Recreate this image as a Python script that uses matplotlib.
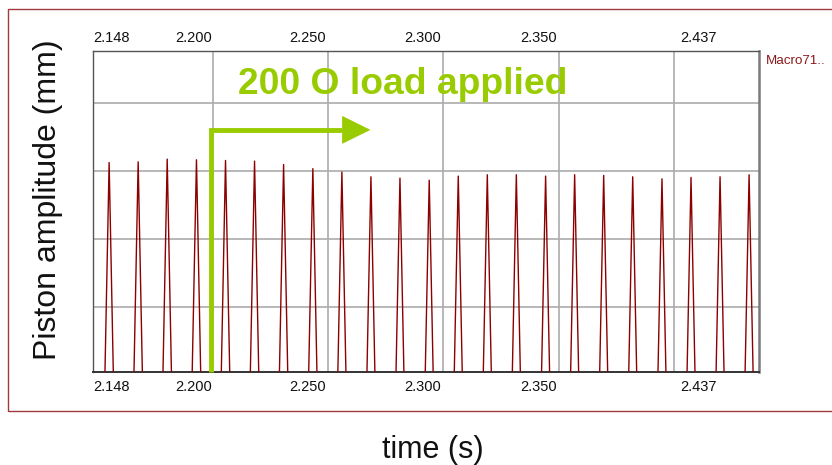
import numpy as np
import matplotlib
matplotlib.use("Agg")
import matplotlib.pyplot as plt
from matplotlib.patches import Rectangle, Polygon

plt.rcParams['font.family'] = ['Liberation Sans', 'DejaVu Sans']

# ---- data ----
peak_times = [2.1550, 2.1676, 2.1802, 2.1929, 2.2055, 2.2181, 2.2307, 2.2434,
              2.2560, 2.2686, 2.2812, 2.2939, 2.3065, 2.3191, 2.3317, 2.3444,
              2.3570, 2.3696, 2.3822, 2.3949, 2.4075, 2.4201, 2.4327]
peak_values = [3.13, 3.14, 3.18, 3.17, 3.16, 3.15, 3.10, 3.04,
               2.99, 2.92, 2.90, 2.87, 2.93, 2.95, 2.95, 2.93,
               2.95, 2.94, 2.92, 2.89, 2.91, 2.92, 2.95]
trough_level = -7.6          # signal minimum, far below the visible window
load_time = 2.1992           # 200 Ohm load switched on
tick_labels = ["2.148", "2.200", "2.250", "2.300", "2.350", "2.437"]
tick_label_pos = [2.1560, 2.1917, 2.2410, 2.2910, 2.3413, 2.4108]
grid_x = [2.200, 2.250, 2.300, 2.350, 2.400]
grid_y = [1, 2, 3, 4]
x_range = (2.148, 2.437)
y_range = (0.053, 4.77)

# build polyline: trough - peak - trough ...
half = (peak_times[1] - peak_times[0]) / 2
t = [peak_times[0] - half]
y = [trough_level]
for pt, pv in zip(peak_times, peak_values):
    t += [pt, pt + half]
    y += [pv, trough_level]

fig = plt.figure(figsize=(8.32, 4.65), dpi=100)
ax = fig.add_axes([93/832, 1 - 371.7/465, 666/832, 320.7/465])

ax.set_xlim(*x_range)
ax.set_ylim(*y_range)

for gx in grid_x:
    ax.axvline(gx, color='#ababab', lw=1.2, zorder=1)
for gy in grid_y:
    ax.axhline(gy, color='#ababab', lw=1.2, zorder=1)

ax.plot(t, y, color='#8b0000', lw=1.0, zorder=3)

ax.set_xticks([])
ax.set_yticks([])
for s in ['top', 'left']:
    ax.spines[s].set_color('#555555')
    ax.spines[s].set_linewidth(1.0)
ax.spines['right'].set_color('#7a7a7a')
ax.spines['right'].set_linewidth(1.8)
ax.spines['bottom'].set_color('#333333')
ax.spines['bottom'].set_linewidth(1.4)

# tick labels top and bottom
xt = ax.get_xaxis_transform()
for lab, px in zip(tick_labels, tick_label_pos):
    ax.text(px, 1.0 + 6/320.7, lab, transform=xt, ha='center',
            va='bottom', fontsize=10.5, color='#111111', clip_on=False)
    ax.text(px, -8/320.7, lab, transform=xt, ha='center',
            va='top', fontsize=10.5, color='#111111', clip_on=False)

# green load arrow
green = '#99cc00'
elbow_y = 3.61
head_base = 2.2561
head_tip = 2.2684
ax.plot([load_time, load_time, head_base], [y_range[0], elbow_y, elbow_y],
        color=green, lw=3.5, solid_joinstyle='miter', solid_capstyle='butt',
        zorder=4, clip_on=False)
hh = 14/68
ax.add_patch(Polygon([[head_base, elbow_y - hh], [head_tip, elbow_y],
                      [head_base, elbow_y + hh]], closed=True,
                     color=green, zorder=4, lw=0))
ax.text(238/832, 1 - 84/465, "200 O load applied", transform=fig.transFigure,
        fontsize=26.8, fontweight='bold', color=green, ha='left', va='center')

# side label
fig.text(766/832, 1 - 61/465, "Macro71..", fontsize=9.6, color='#8b1a1a',
         ha='left', va='center')

# axis titles
fig.text(48/832, 1 - 200/465, "Piston amplitude (mm)", rotation=90,
         fontsize=23, ha='center', va='center', color='#111111')
fig.text(433/832, 1 - 450/465, "time (s)", fontsize=22,
         ha='center', va='center', color='#111111')

# outer frame
fig.patches.append(Rectangle((8/832, 1 - 411/465), 1.0, (411 - 9)/465,
                             transform=fig.transFigure, fill=False,
                             edgecolor='#a33a3a', lw=1.0, zorder=0))

fig.savefig("out.png", dpi=100)
